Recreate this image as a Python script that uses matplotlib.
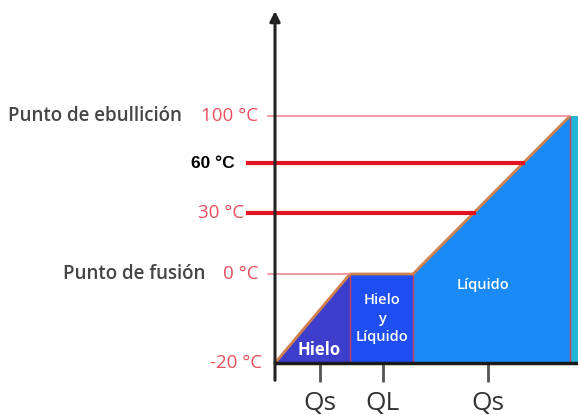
import matplotlib.pyplot as plt
import matplotlib.transforms as mtransforms
import numpy as np

# temperaturas marcadas en el eje y su altura en la escala del dibujo
temp_marcas = [-20, 0, 30, 60, 100]
altura_marcas = [0, 89, 150, 200, 247]

# curva de calentamiento: calor acumulado (Q) y temperatura
q_curva = [0, 75, 138, 295]
t_curva = [-20, 0, 0, 100]
q_fin = 303

etiquetas_t = ["-20 °C", "0 °C", "30 °C", "60 °C", "100 °C"]
lineas_t = [30, 60]
posiciones_q = [45, 108, 213]
etiquetas_q = ["Qs", "QL", "Qs"]


def forward(t):
    return np.interp(t, temp_marcas, altura_marcas)


def inverse(h):
    return np.interp(h, altura_marcas, temp_marcas)


plt.rcParams["font.family"] = ["Open Sans", "DejaVu Sans"]

fig = plt.figure(figsize=(5.78, 4.17), dpi=100)
ax = fig.add_axes([275 / 578, 54 / 417, 303 / 578, 247 / 417])
ax.set_yscale("function", functions=(forward, inverse))
ax.set_xlim(0, q_fin)
ax.set_ylim(-20, 100)

t0 = t_curva[0]
# zonas de estado
ax.fill([q_curva[0], q_curva[1], q_curva[1]], [t0, t_curva[1], t0], color="#3d3fcc", lw=0)
ax.fill([q_curva[1], q_curva[1], q_curva[2], q_curva[2]], [t0, t_curva[1], t_curva[2], t0],
        color="#1f4ef2", lw=0)
ax.fill([q_curva[2], q_curva[2], q_curva[3], q_curva[3]], [t0, t_curva[2], t_curva[3], t0],
        color="#1a8bf6", lw=0)
ax.fill([q_curva[3], q_curva[3], q_fin, q_fin], [t0, t_curva[3], t_curva[3], t0],
        color="#23b4d6", lw=0)
for q in q_curva[1:]:
    ax.plot([q, q], [t0, np.interp(q, q_curva, t_curva)], color="#c8405a", lw=1)
ax.plot(q_curva, t_curva, color="#d0804c", lw=2, solid_capstyle="round")

# líneas de referencia
ax.plot([0, q_curva[1]], [0, 0], color="#f08a92", lw=1.2)
ax.plot([-7, q_curva[3]], [100, 100], color="#f08a92", lw=1.2, clip_on=False)
for t in lineas_t:
    frac = (forward(t) - forward(0)) / (forward(100) - forward(0))
    q_corte = q_curva[2] + frac * (q_curva[3] - q_curva[2])
    ax.plot([-27, q_corte], [t, t], color="#e0151f", lw=3, clip_on=False, zorder=3)
ax.plot([-7, 0], [0, 0], color="#f08a92", lw=1.2, clip_on=False)

# etiquetas del eje de temperatura
ytr = mtransforms.blended_transform_factory(ax.transAxes, ax.transData)
pads = {-20: 9, 0: 12, 30: 22, 60: 29, 100: 12}
for t, lab in zip(temp_marcas, etiquetas_t):
    if t == 60:
        ax.annotate(lab, (0, t), xycoords=ytr, xytext=(-pads[t], 0), textcoords="offset points",
                    ha="right", va="center", fontsize=12.5, fontweight="bold", color="black",
                    family=["Liberation Sans", "DejaVu Sans"])
    else:
        ax.annotate(lab, (0, t), xycoords=ytr, xytext=(-pads[t], 0), textcoords="offset points",
                    ha="right", va="center", fontsize=13.5, color="#e8505e")

ftr = mtransforms.blended_transform_factory(fig.transFigure, ax.transData)
ax.text(8 / 578, 100, "Punto de ebullición", transform=ftr, ha="left", va="center",
        fontsize=13.5, fontweight="semibold", color="#454545")
ax.text(205 / 578, 0, "Punto de fusión", transform=ftr, ha="right", va="center",
        fontsize=13.5, fontweight="semibold", color="#454545")

# textos dentro de las zonas
ax.text(44, -17, "Hielo", color="white", fontsize=12, fontweight="bold", ha="center", va="center")
ax.text(107, -10, "Hielo\ny\nLíquido", color="white", fontsize=10.5, fontweight="semibold",
        ha="center", va="center", linespacing=1.45)
ax.text(208, -2.5, "Líquido", color="white", fontsize=10.5, fontweight="semibold",
        ha="center", va="center")

# ejes
ax.set_yticks([])
ax.set_xticks(posiciones_q)
ax.set_xticklabels(etiquetas_q, fontsize=19, color="#333333")
ax.tick_params(axis="x", length=14, width=2, color="#555555", pad=6)
for s in ["top", "right", "left"]:
    ax.spines[s].set_visible(False)
ax.spines["bottom"].set_color("#1a1a1a")
ax.spines["bottom"].set_linewidth(2.5)
ax.annotate("", xy=(0, 1.425), xycoords="axes fraction", xytext=(0, -0.07),
            arrowprops=dict(arrowstyle="-|>,head_length=0.6,head_width=0.3", color="#222222",
                            lw=2.2, shrinkA=0, shrinkB=0))

fig.savefig("out.png", dpi=100)
